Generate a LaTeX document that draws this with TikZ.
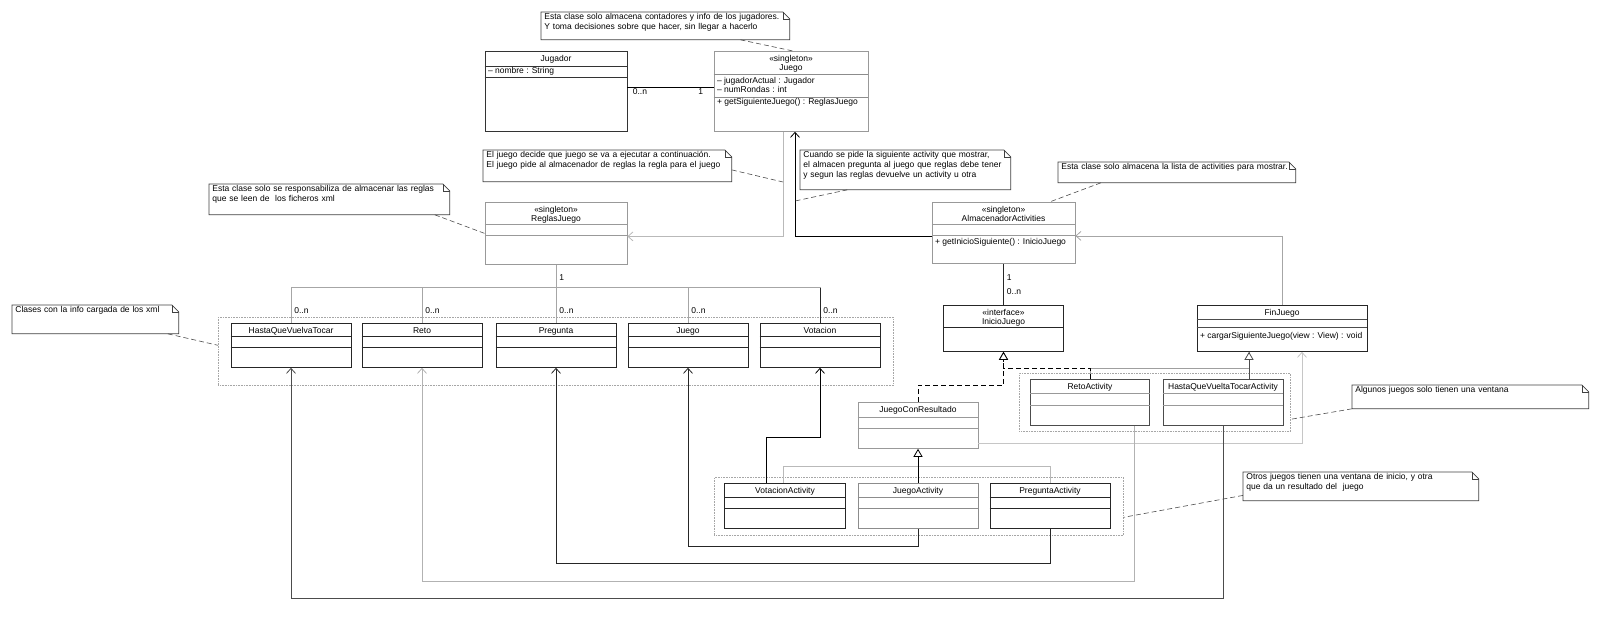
\documentclass[tikz,border=0pt]{standalone}
\usepackage{fontspec}
\setmainfont{Liberation Sans}
\usepackage{tikz}
\usetikzlibrary{arrows.meta,calc}

\begin{document}
\begin{tikzpicture}[x=1pt, y=-1pt, line width=0.8pt,
    font=\fontsize{8.5}{9}\selectfont,
    cls/.style={draw, rectangle, anchor=north, inner sep=0pt, text height=10pt, align=center},
    cls2/.style={cls, text height=19pt},
    attr/.style={anchor=base west, inner sep=0pt, align=left},
    note/.style={anchor=north west, inner xsep=3pt, inner ysep=1pt, text height=6.5pt, align=left, font=\fontsize{8.5}{10}\selectfont},
    notebox/.style={draw=black!75, line width=0.7pt},
    grp/.style={draw=gray!70, densely dotted, line width=0.6pt, anchor=north west, inner sep=0pt},
    mult/.style={inner sep=0pt, anchor=base west},
    nav/.style={-{Straight Barb[length=5pt,width=9pt]}},
    gen/.style={-{Triangle[fill=white,length=8pt,width=9pt]}},
    real/.style={dash pattern=on 5pt off 3pt, -{Triangle[fill=white,length=8pt,width=9pt]}},
    link/.style={black!70, line width=0.6pt, dash pattern=on 5pt off 3pt},
]
\useasboundingbox (0,0) rectangle (1600,621);

% groups
\node[grp, minimum width=675pt, minimum height=68pt] (grpData) at (218,317) {};
\node[grp, minimum width=271pt, minimum height=58pt] (grpUna) at (1019,373) {};
\node[grp, minimum width=409pt, minimum height=58pt] (grpDos) at (714,477) {};

% top classes
\node[cls, draw=black!80, minimum width=142pt, text depth=70pt] (jugador) at (556,51) {Jugador};
\node[cls2, draw=gray!80, minimum width=154pt, text depth=61pt] (juego) at (791,51) {«singleton»\\Juego};
\node[cls2, draw=gray!80, minimum width=142pt, text depth=43pt] (reglas) at (556,202) {«singleton»\\ReglasJuego};
\node[cls2, draw=gray!80, minimum width=143pt, text depth=42pt] (almacen) at (1003.5,202) {«singleton»\\AlmacenadorActivities};

% classes loaded from xml
\node[cls, draw=black!85, minimum width=120pt, text depth=34pt] (hastaVuelva) at (291,323) {HastaQueVuelvaTocar};
\node[cls, draw=black!85, minimum width=120pt, text depth=34pt] (reto) at (422,323) {Reto};
\node[cls, draw=black!85, minimum width=120pt, text depth=34pt] (pregunta) at (556,323) {Pregunta};
\node[cls, draw=black!85, minimum width=120pt, text depth=34pt] (juegoXml) at (688,323) {Juego};
\node[cls, draw=black!85, minimum width=120pt, text depth=34pt] (votacion) at (820,323) {Votacion};

% activities
\node[cls2, draw=black!85, minimum width=120pt, text depth=27pt] (inicio) at (1003.5,305) {«interface»\\InicioJuego};
\node[cls, draw=black!85, minimum width=170pt, text depth=36pt] (fin) at (1282,305) {FinJuego};
\node[cls, draw=black!70, minimum width=119pt, text depth=36pt] (retoA) at (1090,379) {RetoActivity};
\node[cls, draw=black!70, minimum width=120pt, text depth=36pt] (hastaA) at (1223,379) {HastaQueVueltaTocarActivity};
\node[cls, draw=gray!80, minimum width=120pt, text depth=36pt] (jcr) at (918,402) {JuegoConResultado};
\node[cls, draw=black!85, minimum width=121pt, text depth=35pt] (votA) at (785,483) {VotacionActivity};
\node[cls, draw=gray!90, minimum width=120pt, text depth=35pt] (juegoA) at (918,483) {JuegoActivity};
\node[cls, draw=black!85, minimum width=120pt, text depth=35pt] (pregA) at (1050,483) {PreguntaActivity};

% compartments
\foreach \n/\a/\b/\c in {jugador/15/26/black!80, juego/23/46/gray!90, reglas/22/33/gray!80,
    almacen/22/33/gray!80, inicio/22/22/black!85, fin/14/22/black!70,
    hastaVuelva/13/24/black!85, reto/13/24/black!85, pregunta/13/24/black!85,
    juegoXml/13/24/black!85, votacion/13/24/black!85, retoA/14/26/gray!80,
    hastaA/14/26/gray!80, jcr/15/26/gray!80, votA/14/25/black!85,
    juegoA/14/25/gray!90, pregA/14/25/black!85}
  \draw[\c] ([yshift=-\a pt]\n.north west) -- ([yshift=-\a pt]\n.north east)
            ([yshift=-\b pt]\n.north west) -- ([yshift=-\b pt]\n.north east);

% attributes and operations
\node[attr] (jugadorAttr) at ([xshift=3pt,yshift=-22pt]jugador.north west) {-- nombre : String};
\node[attr] (juegoAttr) at ([xshift=3pt,yshift=-41pt]juego.north west) {-- jugadorActual : Jugador\\-- numRondas : int};
\node[attr] (juegoOp) at ([xshift=3pt,yshift=-53pt]juego.north west) {+ getSiguienteJuego() : ReglasJuego};
\node[attr] (almacenOp) at ([xshift=3pt,yshift=-42.5pt]almacen.north west) {+ getInicioSiguiente() : InicioJuego};
\node[attr] (finOp) at ([xshift=3pt,yshift=-33pt]fin.north west) {+ cargarSiguienteJuego(view : View) : void};

% notes
\node[note, text width=242pt, text depth=18.5pt] (nTop) at (541,12) {Esta clase solo almacena contadores y info de los jugadores.\\Y toma decisiones sobre que hacer, sin llegar a hacerlo};
\node[note, text width=242pt, text depth=22.5pt] (nDecide) at (483,150) {El juego decide que juego se va a ejecutar a continuación.\\El juego pide al almacenador de reglas la regla para el juego};
\node[note, text width=204pt, text depth=30.5pt] (nPide) at (800,150) {Cuando se pide la siguiente activity que mostrar,\\el almacen pregunta al juego que reglas debe tener\\y segun las reglas devuelve un activity u otra};
\node[note, text width=231pt, text depth=11.5pt] (nLista) at (1058,162) {Esta clase solo almacena la lista de activities para mostrar.};
\node[note, text width=234pt, text depth=21.5pt] (nRespon) at (209,184) {Esta clase solo se responsabiliza de almacenar las reglas\\que se leen de\ \ los ficheros xml};
\node[note, text width=160pt, text depth=19.5pt] (nXml) at (12,305) {Clases con la info cargada de los xml};
\node[note, text width=230pt, text depth=14.5pt] (nVentana) at (1352,385) {Algunos juegos solo tienen una ventana};
\node[note, text width=229pt, text depth=19.5pt] (nOtros) at (1243,472) {Otros juegos tienen una ventana de inicio, y otra\\que da un resultado del\ \ juego};
\foreach \n in {nTop,nDecide,nPide,nLista,nRespon,nXml,nVentana,nOtros} {
  \draw[notebox] (\n.north west) -- ([xshift=-7pt]\n.north east) -- ([yshift=-7pt]\n.north east)
                 -- (\n.south east) -- (\n.south west) -- cycle;
  \draw[notebox, line width=0.5pt] ([xshift=-7pt]\n.north east) |- ([yshift=-7pt]\n.north east);
}

% Jugador - Juego
\draw[black] ([yshift=4pt]jugador.east) -- ([yshift=4pt]juego.west);
\node[mult] (mJugador) at ([xshift=5pt,yshift=-3pt]jugador.east) {0..n};
\node[mult, anchor=base east] (mJuego) at ([xshift=-10pt,yshift=-3pt]juego.west) {1};

% Juego, ReglasJuego, AlmacenadorActivities
\draw[nav, gray!55] ([xshift=-8pt]juego.south) |- ([yshift=-3pt]reglas.east);
\draw[nav, black] ([yshift=-3pt]almacen.west) -| ([xshift=4pt]juego.south);
\draw[nav, gray!70] (fin.north) |- ([yshift=-3pt]almacen.east);

% ReglasJuego - xml classes
\draw[gray!70] (reglas.south) -- ++(0,23) coordinate (hub);
\draw[gray!70] (hub) -| (hastaVuelva.north) (hub) -| (reto.north) (hub) -- (pregunta.north)
               (hub) -| (juegoXml.north) (hub) -| (votacion.north);
\draw[black!85] (hub -| votacion.north) -- (votacion.north);
\node[mult] (mReglas) at ([xshift=3pt,yshift=-16pt]reglas.south) {1};
\node[mult] (mHasta) at ([xshift=3pt,yshift=10pt]hastaVuelva.north) {0..n};
\node[mult] (mReto) at ([xshift=3pt,yshift=10pt]reto.north) {0..n};
\node[mult] (mPregunta) at ([xshift=3pt,yshift=10pt]pregunta.north) {0..n};
\node[mult] (mJuegoXml) at ([xshift=3pt,yshift=10pt]juegoXml.north) {0..n};
\node[mult] (mVotacion) at ([xshift=3pt,yshift=10pt]votacion.north) {0..n};

% AlmacenadorActivities - InicioJuego
\draw[black!85] (almacen.south) -- (inicio.north);
\node[mult] (mAlmacen) at ([xshift=3pt,yshift=-17pt]almacen.south) {1};
\node[mult] (mInicio) at ([xshift=3pt,yshift=-31pt]almacen.south) {0..n};

% activities to InicioJuego and FinJuego
\draw[gray!75] (retoA.north) -- ++(0,-11) -| ([xshift=-33pt]fin.south);
\draw[nav, gray!45] ([yshift=-18pt]jcr.east) -| ([xshift=20pt]fin.south);
\draw[real] (jcr.north) -- ++(0,-17) -| (inicio.south);
\draw[real] (retoA.north) -- ++(0,-11) -| (inicio.south);
\draw[gen, black!70] ([xshift=26pt]hastaA.north) -- ([xshift=-33pt]fin.south);

% activities to JuegoConResultado
\draw[gray!55] ([xshift=-2pt]votA.north) |- ([yshift=-18pt]jcr.south) -| (pregA.north);
\draw[gen, black] (juegoA.north) -- (jcr.south);

% activities to xml classes
\draw[nav, black] ([xshift=-19pt]votA.north) -- ++(0,-46) -| (votacion.south);
\draw[nav, black!85] (juegoA.south) -- ++(0,18) -| (juegoXml.south);
\draw[nav, black!85] (pregA.south) -- ++(0,35) -| (pregunta.south);
\draw[nav, gray!60] ([xshift=44pt]retoA.south) -- ++(0,156) -| (reto.south);
\draw[nav, black!70] (hastaA.south) -- ++(0,173) -| (hastaVuelva.south);

% note links
\coordinate (kDecide) at (783,182);
\coordinate (kPide) at (795,201);
\draw[link] ([xshift=75pt]nTop.south) -- ([xshift=2pt]juego.north);
\draw[link] ([yshift=-4pt]nDecide.east) -- (kDecide);
\draw[link] ([xshift=-58pt]nPide.south) -- (kPide);
\draw[link] ([xshift=-76pt]nLista.south) -- ([xshift=46pt]almacen.north);
\draw[link] ([xshift=-15pt]nRespon.south east) -- (reglas.west);
\draw[link] ([xshift=-11pt]nXml.south east) -- ([yshift=6pt]grpData.west);
\draw[link] (nVentana.south west) -- ([yshift=-17pt]grpUna.east);
\draw[link] ([yshift=-9pt]nOtros.west) -- ([yshift=-11pt]grpDos.east);

\end{tikzpicture}
\end{document}
